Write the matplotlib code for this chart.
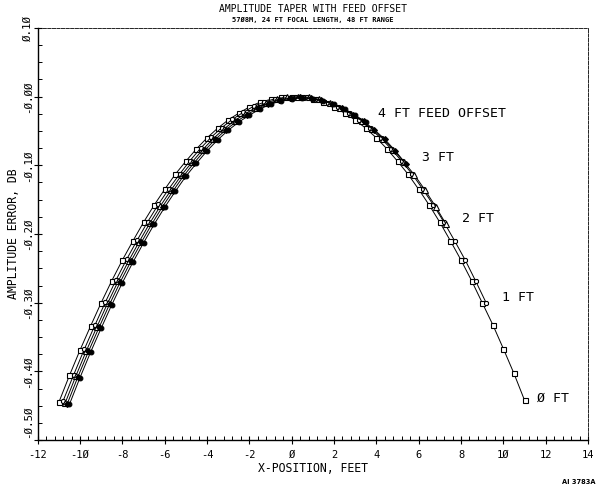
import matplotlib
matplotlib.use("Agg")
import matplotlib.pyplot as plt
from matplotlib.ticker import MultipleLocator, FixedLocator

# ---------------- data ----------------
x_0ft = [-11.0, -10.5, -10.0, -9.5, -9.0, -8.5, -8.0, -7.5, -7.0, -6.5, -6.0, -5.5, -5.0, -4.5, -4.0,
         -3.5, -3.0, -2.5, -2.0, -1.5, -1.0, -0.5, 0.0, 0.5, 1.0, 1.5, 2.0, 2.5, 3.0, 3.5, 4.0, 4.5,
         5.0, 5.5, 6.0, 6.5, 7.0, 7.5, 8.0, 8.5, 9.0, 9.5, 10.0, 10.5, 11.0]
y_0ft = [-0.445, -0.406, -0.369, -0.334, -0.300, -0.268, -0.238, -0.210, -0.183, -0.158, -0.135, -0.113,
         -0.094, -0.076, -0.060, -0.046, -0.034, -0.024, -0.015, -0.008, -0.004, -0.001, 0.000, -0.001,
         -0.004, -0.008, -0.015, -0.024, -0.034, -0.046, -0.060, -0.076, -0.094, -0.113, -0.135, -0.158,
         -0.183, -0.210, -0.238, -0.268, -0.300, -0.332, -0.367, -0.403, -0.442]

x_1ft = [-10.8, -10.3, -9.8, -9.3, -8.8, -8.3, -7.8, -7.3, -6.8, -6.3, -5.8, -5.3, -4.8,
         -4.3, -3.8, -3.3, -2.8, -2.3, -1.8, -1.3, -0.8, -0.3, 0.2, 0.7, 1.2, 1.7, 2.2,
         2.7, 3.2, 3.7, 4.2, 4.7, 5.2, 5.7, 6.2, 6.7, 7.2, 7.7, 8.2, 8.7, 9.2]
y_1ft = [-0.443, -0.405, -0.368, -0.333, -0.299, -0.267, -0.237, -0.209, -0.182, -0.157, -0.134, -0.113,
         -0.093, -0.075, -0.059, -0.045, -0.033, -0.023, -0.014, -0.008, -0.003, -0.001, 0.000, -0.001,
         -0.004, -0.009, -0.015, -0.024, -0.034, -0.046, -0.060, -0.076, -0.094, -0.113, -0.135, -0.158,
         -0.183, -0.210, -0.238, -0.269, -0.301]

x_2ft = [-10.7, -10.2, -9.7, -9.2, -8.7, -8.2, -7.7, -7.2, -6.7, -6.2, -5.7, -5.2, -4.7,
         -4.2, -3.7, -3.2, -2.7, -2.2, -1.7, -1.2, -0.7, -0.2, 0.3, 0.8, 1.3, 1.8, 2.3,
         2.8, 3.3, 3.8, 4.3, 4.8, 5.3, 5.8, 6.3, 6.8, 7.3]
y_2ft = [-0.446, -0.407, -0.370, -0.335, -0.301, -0.269, -0.239, -0.211, -0.184, -0.159, -0.136, -0.114,
         -0.095, -0.077, -0.061, -0.047, -0.035, -0.025, -0.016, -0.009, -0.004, -0.001, 0.000, -0.001,
         -0.004, -0.009, -0.016, -0.025, -0.035, -0.047, -0.061, -0.077, -0.095, -0.114, -0.136, -0.160,
         -0.186]

x_3ft = [-10.6, -10.1, -9.6, -9.1, -8.6, -8.1, -7.6, -7.1, -6.6, -6.1, -5.6, -5.1, -4.6,
         -4.1, -3.6, -3.1, -2.6, -2.1, -1.6, -1.1, -0.6, -0.1, 0.4, 0.9, 1.4, 1.9, 2.4,
         2.9, 3.4, 3.9, 4.4, 4.9, 5.4]
y_3ft = [-0.447, -0.408, -0.371, -0.336, -0.302, -0.270, -0.240, -0.212, -0.185, -0.160, -0.137, -0.115,
         -0.096, -0.078, -0.062, -0.048, -0.036, -0.026, -0.017, -0.010, -0.005, -0.002, -0.001, -0.002,
         -0.005, -0.010, -0.017, -0.026, -0.036, -0.048, -0.062, -0.079, -0.098]

x_4ft = [-10.5, -10.0, -9.5, -9.0, -8.5, -8.0, -7.5, -7.0, -6.5, -6.0, -5.5, -5.0, -4.5,
         -4.0, -3.5, -3.0, -2.5, -2.0, -1.5, -1.0, -0.5, 0.0, 0.5, 1.0, 1.5, 2.0, 2.5,
         3.0, 3.5]
y_4ft = [-0.448, -0.409, -0.372, -0.337, -0.303, -0.271, -0.241, -0.213, -0.186, -0.161, -0.138, -0.116,
         -0.097, -0.079, -0.063, -0.049, -0.037, -0.027, -0.018, -0.011, -0.006, -0.003, -0.002, -0.003,
         -0.006, -0.011, -0.018, -0.027, -0.037]

series_labels = ["Ø FT", "1 FT", "2 FT", "3 FT", "4 FT FEED OFFSET"]
label_pos = [(11.6, -0.439), (9.95, -0.292), (8.06, -0.178), (6.17, -0.089), (4.09, -0.025)]

x_ticks = [-12, -10, -8, -6, -4, -2, 0, 2, 4, 6, 8, 10, 12, 14]
x_tick_labels = ["-12", "-1Ø", "-8", "-6", "-4", "-2", "Ø", "2", "4", "6", "8", "1Ø", "12", "14"]
y_ticks = [0.10, 0.0, -0.10, -0.20, -0.30, -0.40, -0.50]
y_tick_labels = ["Ø.1Ø", "-Ø.ØØ", "-Ø.1Ø", "-Ø.2Ø", "-Ø.3Ø", "-Ø.4Ø", "-Ø.5Ø"]

title = "AMPLITUDE TAPER WITH FEED OFFSET"
subtitle = "57Ø8M, 24 FT FOCAL LENGTH, 48 FT RANGE"
x_label = "X-POSITION, FEET"
y_label = "AMPLITUDE ERROR, DB"

# ---------------- drawing ----------------
MONO = "DejaVu Sans Mono"
W, H = 599, 488
fig = plt.figure(figsize=(W / 100, H / 100), dpi=100)
L, R, T, B = 37.7, 588.0, 28.0, 440.0
ax = fig.add_axes([L / W, 1 - B / H, (R - L) / W, (B - T) / H])
ax.set_xlim(-12, 14)
ax.set_ylim(-0.5, 0.1)

styles = [
    dict(marker="s", mfc="white", mec="black", ms=3.6, mew=0.8),
    dict(marker="8", mfc="white", mec="black", ms=3.6, mew=0.8),
    dict(marker="^", mfc="white", mec="black", ms=3.8, mew=0.8),
    dict(marker="D", mfc="black", mec="black", ms=3.0, mew=0.8),
    dict(marker="o", mfc="black", mec="black", ms=3.4, mew=0.8),
]
data = [(x_0ft, y_0ft), (x_1ft, y_1ft), (x_2ft, y_2ft), (x_3ft, y_3ft), (x_4ft, y_4ft)]
for (xs, ys), st in zip(data, styles):
    ax.plot(xs, ys, color="black", lw=0.7, **st)

for lab, (lx, ly) in zip(series_labels, label_pos):
    ax.text(lx, ly, lab, family=MONO, fontsize=9.5, ha="left", va="center")

# axes frame
for s in ("left", "bottom"):
    ax.spines[s].set_linewidth(1.0)
for s in ("top", "right"):
    ax.spines[s].set_linewidth(0.6)
    ax.spines[s].set_linestyle((0, (4, 1.5)))

ax.xaxis.set_major_locator(FixedLocator(x_ticks))
ax.xaxis.set_minor_locator(MultipleLocator(0.4))
ax.yaxis.set_major_locator(FixedLocator(y_ticks))
ax.yaxis.set_minor_locator(MultipleLocator(0.025))
ax.tick_params(which="major", direction="inout", length=6, width=0.8, top=False, right=False)
ax.tick_params(which="minor", direction="in", length=3, width=0.7, top=False, right=False)
ax.set_xticklabels(x_tick_labels, family=MONO, fontsize=7.5, va="baseline")
ax.tick_params(axis="x", which="major", pad=10)
ax.set_yticklabels([])

ytrans = ax.get_yaxis_transform()
for i, (v, lab) in enumerate(zip(y_ticks, y_tick_labels)):
    yy = v if i < len(y_ticks) - 1 else v + 0.027
    ax.text(-9.5 / (R - L), yy, lab, transform=ytrans, rotation=90, family=MONO,
            fontsize=7.8, ha="center", va="center", clip_on=False)

fig.text((L + R) / 2 / W, 1 - 9 / H, title, family=MONO, fontsize=7.0, ha="center", va="center")
fig.text((L + R) / 2 / W, 1 - 20 / H, subtitle, family=MONO, fontsize=5.0, fontweight="bold",
         ha="center", va="center")
fig.text((L + R) / 2 / W, 1 - 468 / H, x_label, family=MONO, fontsize=8.3, ha="center", va="center")
fig.text(14 / W, 1 - 234 / H, y_label, family=MONO, fontsize=8.3, rotation=90, ha="center", va="center")
fig.text(595 / W, 1 - 482 / H, "AI 3783A", fontsize=4.8, fontweight="bold", ha="right", va="center")

fig.savefig("out.png", dpi=100)
